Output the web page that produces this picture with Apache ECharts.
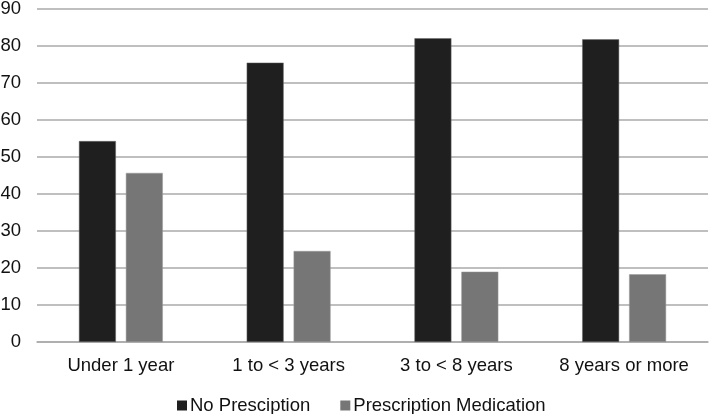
<!DOCTYPE html>
<html>
<head>
<meta charset="utf-8">
<script src="https://cdn.jsdelivr.net/npm/echarts@6/dist/echarts.min.js"></script>
<style>
  html, body { margin: 0; padding: 0; background: #fff; }
  #chart { width: 712px; height: 414px; }
</style>
</head>
<body>
<div id="chart"></div>
<script>
const categories = ["Under 1 year", "1 to < 3 years", "3 to < 8 years", "8 years or more"];
const noPrescription = [54.3, 75.5, 82.1, 81.8];
const prescriptionMedication = [45.7, 24.6, 19.0, 18.3];

const font = "Liberation Sans, Arial, sans-serif";

let option = {
  animation: false,
  grid: { left: 37, right: 4, top: 9, bottom: 72, outerBoundsMode: "none" },
  legend: {
    top: 391,
    left: 172,
    itemWidth: 10,
    itemHeight: 10,
    itemGap: 30,
    icon: "rect",
    itemStyle: { borderWidth: 0 },
    textStyle: { fontFamily: font, fontSize: 18.5, color: "#111111", padding: [0, 0, 0, -2] },
    data: ["No Presciption", "Prescription Medication"]
  },
  xAxis: {
    type: "category",
    data: categories,
    axisLine: { lineStyle: { color: "#aaaaaa", width: 1.5 } },
    axisTick: { show: false },
    axisLabel: { interval: 0, fontFamily: font, fontSize: 18.5, color: "#111111", margin: 14 }
  },
  yAxis: {
    type: "value",
    min: 0,
    max: 90,
    interval: 10,
    axisLine: { show: false },
    axisTick: { show: false },
    splitLine: { lineStyle: { color: "#aaaaaa", width: 1.5 } },
    axisLabel: { fontFamily: font, fontSize: 18.5, color: "#111111", margin: 16 }
  },
  series: [
    {
      name: "No Presciption",
      type: "bar",
      data: noPrescription,
      barGap: "27%",
      barCategoryGap: "50%",
      itemStyle: { color: "#1f1f1f", borderColor: "#6a6a6a", borderWidth: 0.5 }
    },
    {
      name: "Prescription Medication",
      type: "bar",
      data: prescriptionMedication,
      itemStyle: { color: "#767676", borderColor: "#9a9a9a", borderWidth: 0.5 }
    }
  ]
};

let chart = echarts.init(document.getElementById("chart"));
chart.setOption(option);
</script>
</body>
</html>
